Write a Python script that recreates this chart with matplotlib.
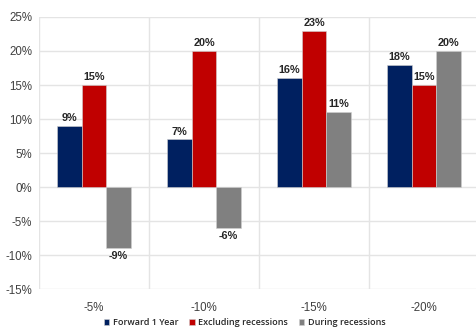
import matplotlib
matplotlib.use("Agg")
import matplotlib.pyplot as plt
import numpy as np

categories = ["-5%", "-10%", "-15%", "-20%"]
forward_1y = [9, 7, 16, 18]
excl_recessions = [15, 20, 23, 15]
during_recessions = [-9, -6, 11, 20]

series = [
    ("Forward 1 Year", forward_1y, "#002060"),
    ("Excluding recessions", excl_recessions, "#C00000"),
    ("During recessions", during_recessions, "#808080"),
]

plt.rcParams["font.family"] = ["Liberation Sans", "DejaVu Sans"]

fig = plt.figure(figsize=(4.77, 3.32), dpi=100)
ax = fig.add_axes([0.0818, 0.1295, 0.9182 + 0.004, 0.8193])

x = np.arange(len(categories))
width = 0.222
offsets = [-width, 0, width]

for (name, vals, color), off in zip(series, offsets):
    bars = ax.bar(x + off, vals, width, color=color, label=name,
                  edgecolor="#d0d0d0", linewidth=0.4, zorder=3)
    for b, v in zip(bars, vals):
        cx = b.get_x() + b.get_width() / 2
        if v >= 0:
            ax.annotate(f"{v}%", (cx, v), xytext=(0, 2), textcoords="offset points",
                        ha="center", va="bottom", fontsize=7.8, fontweight="bold",
                        color="#262626")
        else:
            ax.annotate(f"{v}%", (cx, v), xytext=(0, -2), textcoords="offset points",
                        ha="center", va="top", fontsize=7.8, fontweight="bold",
                        color="#262626")

ax.set_ylim(-15, 25)
ax.set_yticks(np.arange(-15, 26, 5))
ax.set_yticklabels([f"{t}%" for t in range(-15, 26, 5)])
ax.set_xlim(-0.5, 3.5)
ax.set_xticks(x)
ax.set_xticklabels(categories)
ax.set_xticks(np.arange(-0.5, 4.0, 1.0), minor=True)

ax.tick_params(axis="both", which="both", length=0, labelsize=8.3, labelcolor="#404040")
ax.tick_params(axis="x", pad=9)
ax.tick_params(axis="y", pad=5)
ax.grid(axis="y", which="major", color="#e4e4e4", linewidth=1.0, zorder=0)
ax.grid(axis="x", which="minor", color="#e4e4e4", linewidth=1.0, zorder=0)
ax.grid(axis="x", which="major", visible=False)
for s in ax.spines.values():
    s.set_visible(False)

leg = fig.legend(loc="lower center", bbox_to_anchor=(0.513, -0.01), ncol=3,
                 frameon=False, handlelength=0.6, handleheight=0.6,
                 handletextpad=0.4, columnspacing=1.2,
                 prop={"family": ["Open Sans", "DejaVu Sans"], "weight": "semibold", "size": 6.5})
for t in leg.get_texts():
    t.set_color("#262626")

fig.savefig("out.png", dpi=100)
